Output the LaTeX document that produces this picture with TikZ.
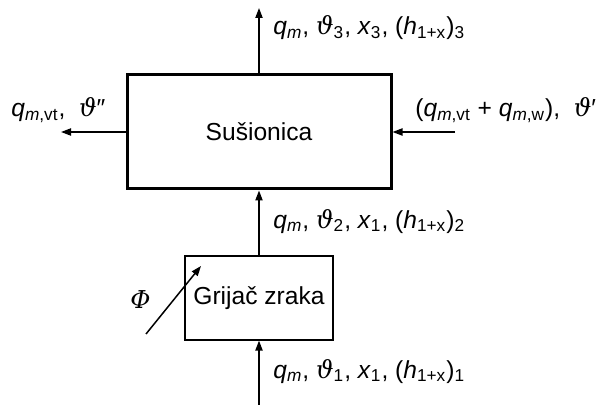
\documentclass[tikz,border=0pt]{standalone}
\usepackage{fontspec}
\setmainfont{Liberation Sans}
\newfontfamily\grkfont{DejaVu Serif}
\usepackage{tikz}
\usetikzlibrary{positioning,arrows.meta}

\newcommand{\sbs}[1]{\textsubscript{#1}}
\newcommand{\qmass}{\textit{q}\sbs{\textit{m}}}
\newcommand{\thet}{{\grkfont\itshape ϑ}}
\newcommand{\hent}{(\textit{h}\sbs{1+x})}

\begin{document}
\begin{tikzpicture}[x=0.5pt, y=-0.5pt, >={Triangle[length=5pt,width=3.6pt]},
    every node/.style={font=\fontsize{12.3}{14}\selectfont},
    lbl/.style={anchor=base west, inner sep=0pt},
    flow/.style={->, line width=0.75pt}]
  \useasboundingbox (0,0) rectangle (598,405);

  \node[draw, line width=1.5pt, minimum width=132pt, minimum height=57pt] (dryer)
      at (259,132) {Sušionica};
  \node[draw, line width=0.6pt, minimum width=74pt, minimum height=42pt] (heater)
      at (259,298) {Grijač zraka};

  \coordinate (outtop) at (259,8);
  \coordinate (outleft) at (61,132);
  \coordinate (inright) at (455,132);
  \coordinate (inbot) at (259,405);
  \coordinate (phistart) at (146,334);
  \coordinate (phiend) at (201,266);

  \draw[flow] (dryer.north) -- (outtop);
  \draw[flow] (dryer.west) -- (outleft);
  \draw[flow] (inright) -- (dryer.east);
  \draw[flow] (heater.north) -- (dryer.south);
  \draw[flow] (inbot) -- (heater.south);
  \draw[flow] (phistart) -- (phiend);

  \node[lbl] (ltop) at (273,35) {\qmass,\ \thet\sbs{3}, \textit{x}\sbs{3}, \hent\sbs{3}};
  \node[lbl] (lmid) at (273,228) {\qmass,\ \thet\sbs{2}, \textit{x}\sbs{1}, \hent\sbs{2}};
  \node[lbl] (lbot) at (273,378) {\qmass,\ \thet\sbs{1}, \textit{x}\sbs{1}, \hent\sbs{1}};
  \node[lbl] (lleft) at (11,117) {\textit{q}\sbs{\textit{m},vt},\ \ \thet″};
  \node[lbl] (lright) at (415,117) {(\textit{q}\sbs{\textit{m},vt} + \textit{q}\sbs{\textit{m},w}),\ \ \thet′};
  \node[lbl] (phi) at (130,308) {{\grkfont\itshape Φ}};
\end{tikzpicture}
\end{document}
